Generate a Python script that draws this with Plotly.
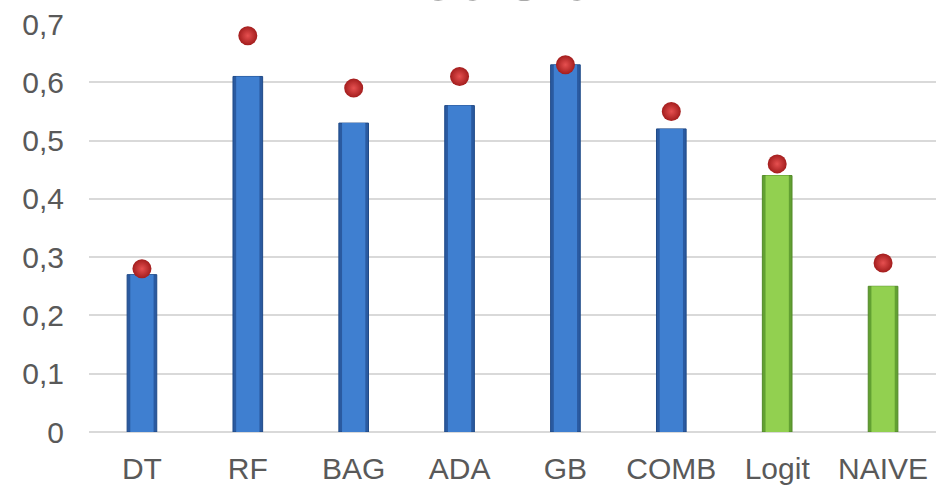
import plotly.graph_objects as go

# Model names and their precision scores
models = ["DT", "RF", "BAG", "ADA", "GB", "COMB", "Logit", "NAIVE"]
precision_test = [0.27, 0.61, 0.53, 0.56, 0.63, 0.52, 0.44, 0.25]
precision_train = [0.28, 0.68, 0.59, 0.61, 0.63, 0.55, 0.46, 0.29]
y_ticks = [0, 0.1, 0.2, 0.3, 0.4, 0.5, 0.6, 0.7]
y_tick_text = ["0", "0,1", "0,2", "0,3", "0,4", "0,5", "0,6", "0,7"]

n_ensemble, n_baseline = 6, 2
edge_colors = ["#2a5aa0"] * n_ensemble + ["#62a032"] * n_baseline
face_colors = ["#3f7fd0"] * n_ensemble + ["#92d050"] * n_baseline
edge_lines = ["#1f4a88"] * n_ensemble + ["#538a28"] * n_baseline

fig = go.Figure()
# darker outer column gives the bevelled sides
fig.add_trace(go.Bar(
    x=models, y=precision_test, width=0.28,
    marker=dict(color=edge_colors, line=dict(color=edge_lines, width=1)),
    showlegend=False, hoverinfo="skip",
))
# lighter inner face of each column
fig.add_trace(go.Bar(
    x=models, y=precision_test, width=0.22,
    marker=dict(color=face_colors, line=dict(width=0)),
    showlegend=False,
))
fig.add_trace(go.Scatter(
    x=models, y=precision_train, mode="markers",
    marker=dict(size=19, color="#a31d1d",
                gradient=dict(type="radial", color="#e65050"),
                line=dict(width=0)),
    showlegend=False,
))

fig.update_layout(
    width=936, height=487,
    barmode="overlay",
    margin=dict(l=89, r=0, t=24, b=55),
    paper_bgcolor="white", plot_bgcolor="white",
    font=dict(family="Liberation Sans, Arial, sans-serif", color="#595959", size=30),
    xaxis=dict(showgrid=False, showline=False, ticks="", tickfont=dict(size=30),
               range=[-0.5, 7.5], ticklabelstandoff=16),
    yaxis=dict(range=[0, 0.7], tickvals=y_ticks, ticktext=y_tick_text,
               showgrid=True, gridcolor="#d9d9d9", gridwidth=1.5,
               zeroline=True, zerolinecolor="#d9d9d9", zerolinewidth=1.5,
               showline=False, ticks="", ticklabelstandoff=24,
               tickfont=dict(size=30)),
    annotations=[dict(
        text="<b>Precision</b>", xref="paper", yref="paper",
        x=(494 - 89) / 847, y=1.021, xanchor="center", yanchor="bottom",
        showarrow=False, font=dict(size=62, color="#595959"),
    )],
)

fig.write_html("out.html")
